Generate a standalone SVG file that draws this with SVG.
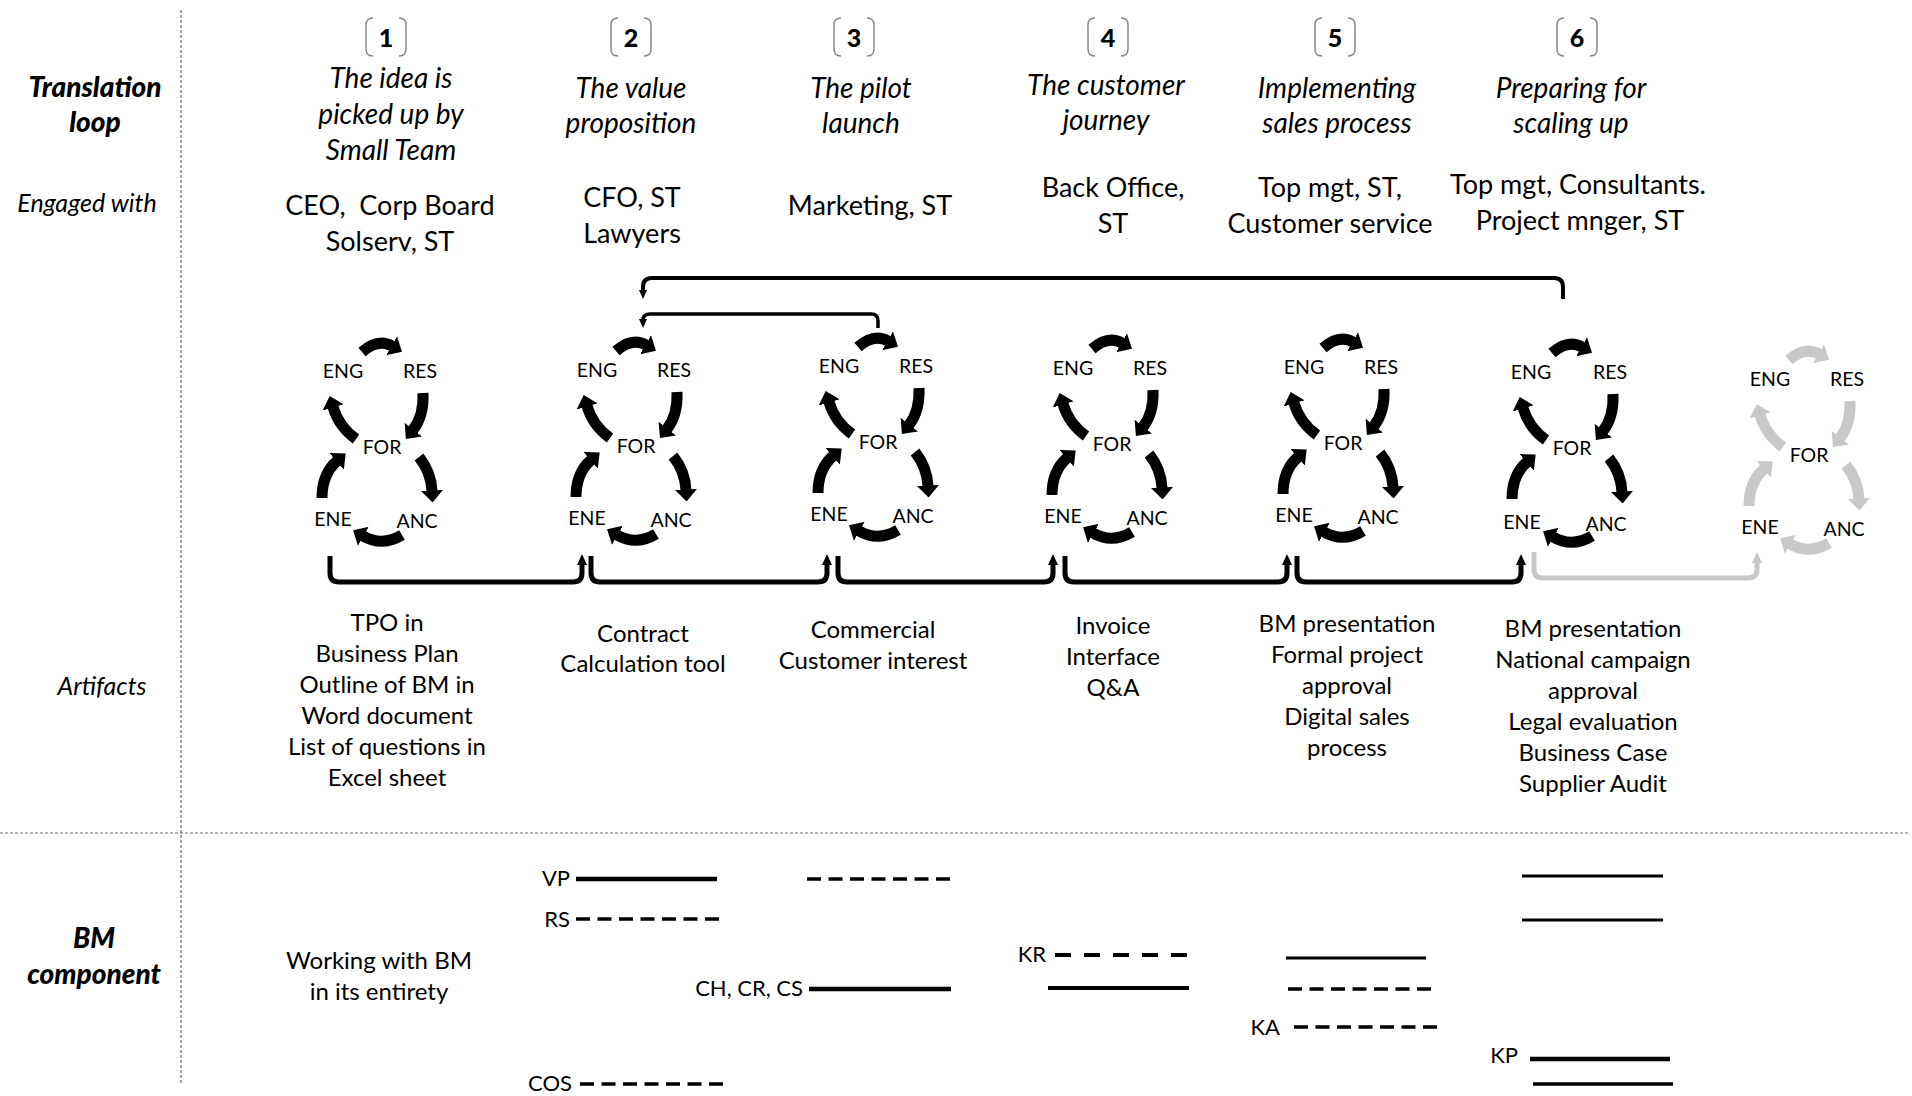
<svg xmlns="http://www.w3.org/2000/svg" xmlns:xlink="http://www.w3.org/1999/xlink" width="1912" height="1096" viewBox="0 0 1912 1096">
<style>
text{font-family:Lato,"Open Sans","DejaVu Sans",sans-serif;fill:#000;text-anchor:middle}
.lab{font-size:28px;font-weight:900;font-style:italic}
.sub{font-size:25px;font-style:italic}
.num{font-size:25px;font-weight:900}
.ttl{font-size:28px;font-style:italic}
.eng{font-size:27px;white-space:pre}
.art{font-size:24px}
.cy{font-size:19.5px}
.bmt{font-size:24px}
.bm{font-size:22px;text-anchor:end}
.sep{fill:none;stroke:#6a6a6a;stroke-width:1.2;stroke-dasharray:3 2}
.box{fill:none;stroke:#8a8a8a;stroke-width:1.5}
.arr{fill:none;stroke:#000;stroke-width:11;marker-end:url(#ah)}
.arrg{fill:none;stroke:#c8c8c8;stroke-width:11;marker-end:url(#ahg)}
.conn{fill:none;stroke:#000;stroke-width:5;marker-end:url(#ch)}
.conng{fill:none;stroke:#c8c8c8;stroke-width:5;marker-end:url(#chg)}
.top{fill:none;stroke:#000;stroke-width:4;marker-end:url(#th)}
.sl{stroke:#000;stroke-width:4}
.sl3{stroke:#000;stroke-width:3}
.dl{stroke:#000;stroke-width:3.5;stroke-dasharray:14 7.5}
.dk{stroke:#000;stroke-width:4;stroke-dasharray:16 13}
</style>
<defs>
<marker id="ah" markerUnits="userSpaceOnUse" markerWidth="12" markerHeight="22" viewBox="0 0 12 22" refX="0.5" refY="11" orient="auto"><path d="M0,0 L12,11 L0,22 z" fill="#000"/></marker>
<marker id="ahg" markerUnits="userSpaceOnUse" markerWidth="12" markerHeight="22" viewBox="0 0 12 22" refX="0.5" refY="11" orient="auto"><path d="M0,0 L12,11 L0,22 z" fill="#c8c8c8"/></marker>
<marker id="ch" markerUnits="userSpaceOnUse" markerWidth="11" markerHeight="10" viewBox="0 0 11 10" refX="1" refY="5" orient="auto"><path d="M0,0 L11,5 L0,10 z" fill="#000"/></marker>
<marker id="chg" markerUnits="userSpaceOnUse" markerWidth="11" markerHeight="10" viewBox="0 0 11 10" refX="1" refY="5" orient="auto"><path d="M0,0 L11,5 L0,10 z" fill="#c8c8c8"/></marker>
<marker id="th" markerUnits="userSpaceOnUse" markerWidth="9" markerHeight="8" viewBox="0 0 9 8" refX="1" refY="4" orient="auto"><path d="M0,0 L9,4 L0,8 z" fill="#000"/></marker>
<g id="cyc">
<path class="arr" d="M-20,-95 Q-4,-109 10,-101"/>
<path class="arr" d="M41,-54 Q42,-31 31,-17"/>
<path class="arr" d="M37,10 Q49,25 50,44"/>
<path class="arr" d="M20,88 Q0,100 -19,89"/>
<path class="arr" d="M-60,51 Q-60,27 -45,14"/>
<path class="arr" d="M-26,-8 Q-43,-20 -49,-40"/>
</g>
<g id="cycg">
<path class="arrg" d="M-20,-95 Q-4,-109 10,-101"/>
<path class="arrg" d="M41,-54 Q42,-31 31,-17"/>
<path class="arrg" d="M37,10 Q49,25 50,44"/>
<path class="arrg" d="M20,88 Q0,100 -19,89"/>
<path class="arrg" d="M-60,51 Q-60,27 -45,14"/>
<path class="arrg" d="M-26,-8 Q-43,-20 -49,-40"/>
</g>
</defs>
<rect width="1912" height="1096" fill="#fff"/>

<g id="grid">
<line class="sep" x1="181" y1="10" x2="181" y2="1083"/>
<line class="sep" x1="0" y1="833" x2="1908" y2="833"/>
</g>

<g id="row-labels">
<text class="lab" x="95" y="97">Translation</text>
<text class="lab" x="95" y="132">loop</text>
<text class="sub" x="87" y="212">Engaged with</text>
<text class="sub" x="102" y="695">Artifacts</text>
<text class="lab" x="94" y="948">BM</text>
<text class="lab" x="94" y="984">component</text>
</g>

<g id="step1">
<path class="box" d="M373,18 Q366,18 366,25 L366,49 Q366,56 373,56 M399,18 Q406,18 406,25 L406,49 Q406,56 399,56"/>
<text class="num" x="386" y="47">1</text>
<text class="ttl" x="391" y="88">The idea is</text>
<text class="ttl" x="391" y="124">picked up by</text>
<text class="ttl" x="391" y="160">Small Team</text>
<text class="eng" x="390" y="215">CEO,  Corp Board</text>
<text class="eng" x="390" y="251">Solserv, ST</text>
</g>
<g id="step2">
<path class="box" d="M618,18 Q611,18 611,25 L611,49 Q611,56 618,56 M644,18 Q651,18 651,25 L651,49 Q651,56 644,56"/>
<text class="num" x="631" y="47">2</text>
<text class="ttl" x="631" y="98">The value</text>
<text class="ttl" x="631" y="133">proposition</text>
<text class="eng" x="632" y="207">CFO, ST</text>
<text class="eng" x="632" y="243">Lawyers</text>
</g>
<g id="step3">
<path class="box" d="M841,18 Q834,18 834,25 L834,49 Q834,56 841,56 M867,18 Q874,18 874,25 L874,49 Q874,56 867,56"/>
<text class="num" x="854" y="47">3</text>
<text class="ttl" x="861" y="98">The pilot</text>
<text class="ttl" x="861" y="133">launch</text>
<text class="eng" x="870" y="215">Marketing, ST</text>
</g>
<g id="step4">
<path class="box" d="M1095,18 Q1088,18 1088,25 L1088,49 Q1088,56 1095,56 M1121,18 Q1128,18 1128,25 L1128,49 Q1128,56 1121,56"/>
<text class="num" x="1108" y="47">4</text>
<text class="ttl" x="1106" y="95">The customer</text>
<text class="ttl" x="1106" y="130">journey</text>
<text class="eng" x="1113" y="197">Back Office,</text>
<text class="eng" x="1113" y="233">ST</text>
</g>
<g id="step5">
<path class="box" d="M1322,18 Q1315,18 1315,25 L1315,49 Q1315,56 1322,56 M1348,18 Q1355,18 1355,25 L1355,49 Q1355,56 1348,56"/>
<text class="num" x="1335" y="47">5</text>
<text class="ttl" x="1337" y="98">Implementing</text>
<text class="ttl" x="1337" y="133">sales process</text>
<text class="eng" x="1330" y="197">Top mgt, ST,</text>
<text class="eng" x="1330" y="233">Customer service</text>
</g>
<g id="step6">
<path class="box" d="M1564,18 Q1557,18 1557,25 L1557,49 Q1557,56 1564,56 M1590,18 Q1597,18 1597,25 L1597,49 Q1597,56 1590,56"/>
<text class="num" x="1577" y="47">6</text>
<text class="ttl" x="1571" y="98">Preparing for</text>
<text class="ttl" x="1571" y="133">scaling up</text>
<text class="eng" x="1578" y="194">Top mgt, Consultants.</text>
<text class="eng" x="1580" y="230">Project mnger, ST</text>
</g>

<g id="cycle1" transform="translate(382,447)">
<use href="#cyc" xlink:href="#cyc"/>
<text class="cy" x="-39" y="-69">ENG</text><text class="cy" x="38" y="-69">RES</text><text class="cy" x="0" y="7">FOR</text><text class="cy" x="-49" y="79">ENE</text><text class="cy" x="35" y="81">ANC</text>
</g>
<g id="cycle2" transform="translate(636,446)">
<use href="#cyc" xlink:href="#cyc"/>
<text class="cy" x="-39" y="-69">ENG</text><text class="cy" x="38" y="-69">RES</text><text class="cy" x="0" y="7">FOR</text><text class="cy" x="-49" y="79">ENE</text><text class="cy" x="35" y="81">ANC</text>
</g>
<g id="cycle3" transform="translate(878,442)">
<use href="#cyc" xlink:href="#cyc"/>
<text class="cy" x="-39" y="-69">ENG</text><text class="cy" x="38" y="-69">RES</text><text class="cy" x="0" y="7">FOR</text><text class="cy" x="-49" y="79">ENE</text><text class="cy" x="35" y="81">ANC</text>
</g>
<g id="cycle4" transform="translate(1112,444)">
<use href="#cyc" xlink:href="#cyc"/>
<text class="cy" x="-39" y="-69">ENG</text><text class="cy" x="38" y="-69">RES</text><text class="cy" x="0" y="7">FOR</text><text class="cy" x="-49" y="79">ENE</text><text class="cy" x="35" y="81">ANC</text>
</g>
<g id="cycle5" transform="translate(1343,443)">
<use href="#cyc" xlink:href="#cyc"/>
<text class="cy" x="-39" y="-69">ENG</text><text class="cy" x="38" y="-69">RES</text><text class="cy" x="0" y="7">FOR</text><text class="cy" x="-49" y="79">ENE</text><text class="cy" x="35" y="81">ANC</text>
</g>
<g id="cycle6" transform="translate(1572,448)">
<use href="#cyc" xlink:href="#cyc"/>
<text class="cy" x="-41" y="-69">ENG</text><text class="cy" x="38" y="-69">RES</text><text class="cy" x="0" y="7">FOR</text><text class="cy" x="-50" y="81">ENE</text><text class="cy" x="34" y="83">ANC</text>
</g>
<g id="cycle7" transform="translate(1809,455)">
<use href="#cycg" xlink:href="#cycg"/>
<text class="cy" x="-39" y="-69">ENG</text><text class="cy" x="38" y="-69">RES</text><text class="cy" x="0" y="7">FOR</text><text class="cy" x="-49" y="79">ENE</text><text class="cy" x="35" y="81">ANC</text>
</g>

<g id="connectors">
<path class="conn" d="M330,556 L330,573 Q330,582 339,582 L573,582 Q582,582 582,573 L582,564"/>
<path class="conn" d="M591,556 L591,573 Q591,582 600,582 L818,582 Q827,582 827,573 L827,564"/>
<path class="conn" d="M838,556 L838,573 Q838,582 847,582 L1044,582 Q1053,582 1053,573 L1053,564"/>
<path class="conn" d="M1065,556 L1065,573 Q1065,582 1074,582 L1278,582 Q1287,582 1287,573 L1287,564"/>
<path class="conn" d="M1297,556 L1297,573 Q1297,582 1306,582 L1512,582 Q1521,582 1521,573 L1521,564"/>
<path class="conng" d="M1534,552 L1534,569 Q1534,578 1543,578 L1748,578 Q1757,578 1757,569 L1757,562"/>
<path class="top" d="M1563,299 L1563,287 Q1563,278 1554,278 L652,278 Q643,278 643,287 L643,291"/>
<path class="top" style="stroke-width:3.5" d="M878,328 L878,321 Q878,314 871,314 L650,314 Q643,314 643,320"/>
</g>

<g id="artifacts">
<text class="art" x="387" y="631">TPO in</text>
<text class="art" x="387" y="662">Business Plan</text>
<text class="art" x="387" y="693">Outline of BM in</text>
<text class="art" x="387" y="724">Word document</text>
<text class="art" x="387" y="755">List of questions in</text>
<text class="art" x="387" y="786">Excel sheet</text>
<text class="art" x="643" y="642">Contract</text>
<text class="art" x="643" y="672">Calculation tool</text>
<text class="art" x="873" y="638">Commercial</text>
<text class="art" x="873" y="669">Customer interest</text>
<text class="art" x="1113" y="634">Invoice</text>
<text class="art" x="1113" y="665">Interface</text>
<text class="art" x="1113" y="696">Q&amp;A</text>
<text class="art" x="1347" y="632">BM presentation</text>
<text class="art" x="1347" y="663">Formal project</text>
<text class="art" x="1347" y="694">approval</text>
<text class="art" x="1347" y="725">Digital sales</text>
<text class="art" x="1347" y="756">process</text>
<text class="art" x="1593" y="637">BM presentation</text>
<text class="art" x="1593" y="668">National campaign</text>
<text class="art" x="1593" y="699">approval</text>
<text class="art" x="1593" y="730">Legal evaluation</text>
<text class="art" x="1593" y="761">Business Case</text>
<text class="art" x="1593" y="792">Supplier Audit</text>
</g>

<g id="bm-components">
<text class="bmt" x="379" y="969">Working with BM</text>
<text class="bmt" x="379" y="1000">in its entirety</text>
<text class="bm" x="570" y="886">VP</text>
<line class="sl" x1="576" y1="879" x2="717" y2="879" style="stroke-width:4.5"/>
<text class="bm" x="570" y="927">RS</text>
<line class="dl" x1="576" y1="919" x2="719" y2="919"/>
<line class="dl" x1="807" y1="879" x2="950" y2="879"/>
<text class="bm" x="803" y="996">CH, CR, CS</text>
<line class="sl" x1="809" y1="989" x2="951" y2="989" style="stroke-width:4.5"/>
<text class="bm" x="572" y="1091">COS</text>
<line class="dl" x1="580" y1="1084" x2="723" y2="1084"/>
<text class="bm" x="1046" y="962">KR</text>
<line class="dk" x1="1055" y1="955" x2="1187" y2="955"/>
<line class="sl" x1="1048" y1="988" x2="1189" y2="988"/>
<line class="sl3" x1="1286" y1="958" x2="1426" y2="958"/>
<line class="dl" x1="1288" y1="989" x2="1431" y2="989"/>
<text class="bm" x="1280" y="1035">KA</text>
<line class="dl" x1="1294" y1="1027" x2="1437" y2="1027"/>
<line class="sl3" x1="1522" y1="876" x2="1663" y2="876"/>
<line class="sl3" x1="1522" y1="920" x2="1663" y2="920"/>
<text class="bm" x="1518" y="1063">KP</text>
<line class="sl" x1="1530" y1="1059" x2="1670" y2="1059" style="stroke-width:4.5"/>
<line class="sl" x1="1533" y1="1084" x2="1673" y2="1084" style="stroke-width:3.5"/>
</g>
</svg>
